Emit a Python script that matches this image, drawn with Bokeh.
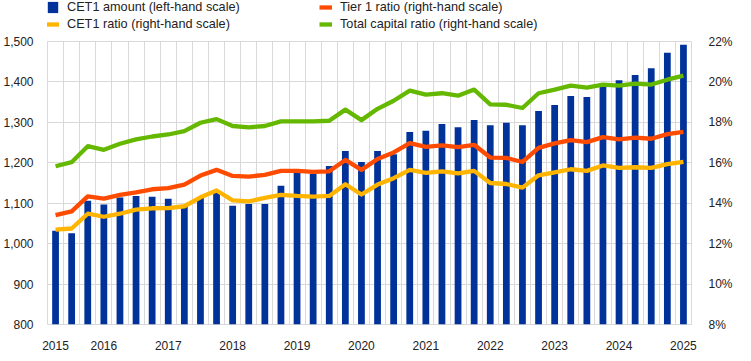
from bokeh.plotting import figure
from bokeh.layouts import column
from bokeh.models import (Range1d, LinearAxis, FixedTicker, NumeralTickFormatter,
                          PrintfTickFormatter, Legend, LegendItem, ColumnDataSource)
from bokeh.embed import file_html
from bokeh.resources import INLINE

# ---- data -------------------------------------------------------------
quarters = [f"{y}Q{q}" for y in range(2015, 2025) for q in range(1, 5)]

cet1_amount = [1032, 1026, 1106, 1097, 1114, 1118, 1116, 1111, 1095, 1113,
               1128, 1094, 1098, 1098, 1143, 1176, 1173, 1192, 1229, 1202,
               1229, 1221, 1276, 1279, 1296, 1288, 1306, 1293, 1299, 1293,
               1328, 1343, 1365, 1363, 1389, 1404, 1417, 1434, 1472, 1492]

total_capital_ratio = [15.83, 16.03, 16.82, 16.64, 16.94, 17.16, 17.30, 17.40, 17.57, 17.98,
                       18.16, 17.82, 17.75, 17.82, 18.05, 18.05, 18.05, 18.08, 18.63, 18.11,
                       18.67, 19.07, 19.57, 19.37, 19.44, 19.32, 19.62, 18.89, 18.87, 18.71,
                       19.44, 19.62, 19.82, 19.72, 19.87, 19.82, 19.92, 19.87, 20.11, 20.31]

tier1_ratio = [13.41, 13.60, 14.34, 14.23, 14.41, 14.54, 14.69, 14.75, 14.92, 15.37,
               15.65, 15.35, 15.32, 15.40, 15.60, 15.60, 15.55, 15.58, 16.14, 15.65,
               16.19, 16.51, 16.97, 16.79, 16.86, 16.77, 16.89, 16.26, 16.24, 16.04,
               16.74, 16.96, 17.12, 17.02, 17.27, 17.16, 17.24, 17.19, 17.42, 17.53]

cet1_ratio = [12.69, 12.75, 13.48, 13.33, 13.48, 13.68, 13.75, 13.76, 13.85, 14.29,
              14.63, 14.14, 14.09, 14.26, 14.41, 14.36, 14.33, 14.36, 14.94, 14.43,
              14.92, 15.24, 15.65, 15.50, 15.58, 15.48, 15.60, 15.00, 14.95, 14.77,
              15.38, 15.53, 15.68, 15.60, 15.87, 15.75, 15.78, 15.75, 15.93, 16.04]

x_tick_pos = [0, 3, 7, 11, 15, 19, 23, 27, 31, 35, 39]
x_tick_labels = ["2015", "2016", "2017", "2018", "2019", "2020",
                 "2021", "2022", "2023", "2024", "2025"]
left_ticks = [800, 900, 1000, 1100, 1200, 1300, 1400, 1500]
right_ticks = [8, 10, 12, 14, 16, 18, 20, 22]

legend_labels = ["CET1 amount (left-hand scale)", "CET1 ratio (right-hand scale)",
                 "Tier 1 ratio (right-hand scale)", "Total capital ratio (right-hand scale)"]

# ---- style ------------------------------------------------------------
BLUE = "#003299"
ORANGE = "#FF4B00"
YELLOW = "#FFB400"
GREEN = "#65B800"
GRID = "#d9d9d9"
FONT = "Liberation Sans"
TXT = "#222222"
LW = 4.3

x = list(range(len(quarters)))
src = ColumnDataSource(dict(x=x, q=quarters, amt=cet1_amount, tot=total_capital_ratio,
                            t1=tier1_ratio, c1=cet1_ratio))

W = 735
LEG_H = 33

p = figure(width=W, height=352 - LEG_H, output_backend="svg", toolbar_location=None,
           x_range=Range1d(-0.5, len(quarters) - 0.5),
           y_range=Range1d(left_ticks[0], left_ticks[-1]),
           min_border_left=39, min_border_right=44, min_border_top=8, min_border_bottom=28)
p.extra_y_ranges = {"ratio": Range1d(right_ticks[0], right_ticks[-1])}
p.outline_line_color = GRID
p.background_fill_color = "white"
p.border_fill_color = "white"

bars = p.vbar(x="x", top="amt", width=0.42, bottom=left_ticks[0], source=src,
              fill_color=BLUE, line_color=None)
l_tot = p.line("x", "tot", source=src, y_range_name="ratio", line_color=GREEN,
               line_width=LW, line_join="round")
l_t1 = p.line("x", "t1", source=src, y_range_name="ratio", line_color=ORANGE,
              line_width=LW, line_join="round")
l_c1 = p.line("x", "c1", source=src, y_range_name="ratio", line_color=YELLOW,
              line_width=LW, line_join="round")

# axes
p.xaxis.ticker = FixedTicker(ticks=x_tick_pos)
p.xaxis.major_label_overrides = {pos: lab for pos, lab in zip(x_tick_pos, x_tick_labels)}
p.xaxis.major_label_standoff = 10
p.yaxis.ticker = FixedTicker(ticks=left_ticks)
p.yaxis.formatter = NumeralTickFormatter(format="0,0")
p.yaxis.major_label_standoff = 8

ra = LinearAxis(y_range_name="ratio", ticker=FixedTicker(ticks=right_ticks),
                formatter=PrintfTickFormatter(format="%d%%"))
ra.major_label_standoff = 11
p.add_layout(ra, "right")

for ax in p.axis:
    ax.axis_line_color = None
    ax.major_tick_line_color = None
    ax.minor_tick_line_color = None
    ax.major_label_text_font = FONT
    ax.major_label_text_font_size = "12px"
    ax.major_label_text_color = TXT

p.xgrid.ticker = FixedTicker(ticks=[i - 0.5 for i in range(len(quarters) + 1)])
p.xgrid.grid_line_color = GRID
p.ygrid.grid_line_color = GRID

# ---- legend strip (separate small figure above the chart) --------------
lf = figure(width=W, height=LEG_H, output_backend="svg", toolbar_location=None,
            x_range=Range1d(-0.5, len(quarters) - 0.5), y_range=Range1d(0, 1),
            x_axis_location=None, y_axis_location=None, min_border=0)
lf.grid.visible = False
lf.outline_line_color = None
lf.background_fill_color = "white"
lf.border_fill_color = "white"

# key renderers share the data but are hidden; only their legend swatches show
k_bar = lf.vbar(x="x", top="amt", width=0.42, source=src, fill_color=BLUE, line_color=None)
k_c1 = lf.line("x", "c1", source=src, line_color=YELLOW, line_width=LW)
k_t1 = lf.line("x", "t1", source=src, line_color=ORANGE, line_width=LW)
k_tot = lf.line("x", "tot", source=src, line_color=GREEN, line_width=LW)
for r in (k_bar, k_c1, k_t1, k_tot):
    r.visible = False

def make_legend(items, loc):
    return Legend(items=items, location=loc, orientation="vertical",
                  glyph_width=13, glyph_height=14, label_height=14, label_standoff=8,
                  spacing=3, padding=0, margin=0,
                  label_text_font=FONT, label_text_font_size="12.7px",
                  label_text_color=TXT, background_fill_alpha=0,
                  border_line_color=None, inactive_fill_alpha=0)

lg1 = make_legend([LegendItem(label=legend_labels[0], renderers=[k_bar]),
                   LegendItem(label=legend_labels[1], renderers=[k_c1])], (-1, 2))
lg2 = make_legend([LegendItem(label=legend_labels[2], renderers=[k_t1]),
                   LegendItem(label=legend_labels[3], renderers=[k_tot])], (272, 2))
lf.add_layout(lg1, "center")
lf.add_layout(lg2, "center")

layout = column(lf, p, spacing=0)
open("out.html", "w").write(file_html(layout, INLINE))
